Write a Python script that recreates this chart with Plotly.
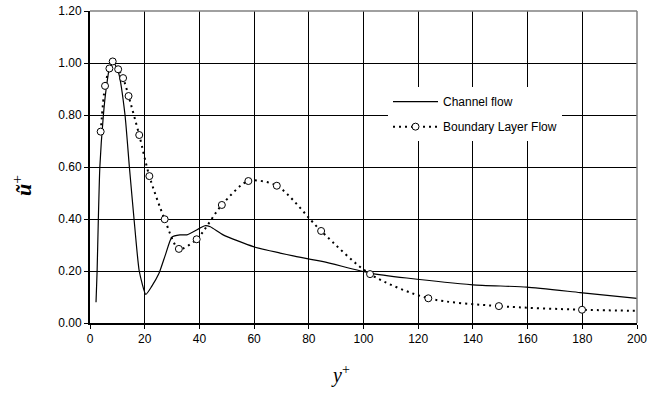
import plotly.graph_objects as go

# Channel flow (solid line)
channel_x = [2.2, 2.6, 3.05, 3.6, 4.9, 5.9, 7.1, 8.5, 10.5, 12.8, 14.4, 16.1, 18.0, 20.4,
             22.5, 25.2, 27.5, 29.9, 32.9, 35.4, 40.2, 42.0, 44.0, 48.7, 59.7, 69.5, 74.3,
             85.3, 102.4, 115.8, 140.0, 159.7, 179.2, 200.0]
channel_y = [0.08, 0.20, 0.40, 0.60, 0.80, 0.90, 0.98, 1.005, 0.96, 0.80, 0.60, 0.40, 0.20, 0.11,
             0.14, 0.19, 0.26, 0.33, 0.339, 0.339, 0.365, 0.374, 0.37, 0.339, 0.294, 0.269, 0.258,
             0.236, 0.192, 0.173, 0.147, 0.138, 0.117, 0.095]

# Boundary layer flow (dotted, markers)
bl_x = [3.9, 5.5, 7.1, 8.3, 10.3, 12.1, 14.1, 18.0, 21.7, 27.3, 32.5, 39.0, 48.2, 57.9,
        68.3, 84.5, 102.4, 123.7, 149.5, 179.9, 212.0]
bl_y = [0.736, 0.912, 0.979, 1.006, 0.976, 0.942, 0.873, 0.723, 0.565, 0.399, 0.285, 0.322,
        0.454, 0.546, 0.528, 0.354, 0.188, 0.095, 0.065, 0.051, 0.045]

x_ticks = [0, 20, 40, 60, 80, 100, 120, 140, 160, 180, 200]
y_ticks = [0.0, 0.2, 0.4, 0.6, 0.8, 1.0, 1.2]

fig = go.Figure()
fig.add_trace(go.Scatter(
    x=channel_x, y=channel_y, mode="lines", name="Channel flow", legendgroup="a",
    line=dict(color="black", width=1.2, shape="spline", smoothing=0.5),
))
fig.add_trace(go.Scatter(
    x=bl_x, y=bl_y, mode="lines+markers", name="Boundary Layer Flow", legendgroup="b",
    line=dict(color="black", width=2, dash="2px,4px", shape="spline", smoothing=0.8),
    marker=dict(symbol="circle", size=7, color="white", line=dict(color="black", width=1)),
    cliponaxis=True,
))

font = dict(family="Liberation Sans, Arial, sans-serif", size=12, color="black")

fig.update_layout(
    width=649, height=406,
    margin=dict(l=90, r=12, t=11, b=83, autoexpand=False),
    paper_bgcolor="white", plot_bgcolor="white",
    font=font,
    showlegend=True,
    legend=dict(
        x=(388 - 90) / 547, y=(323.3 - 87) / 312.6, xanchor="left", yanchor="top",
        bgcolor="white", borderwidth=0, font=font, tracegroupgap=6, itemwidth=45,
    ),
    xaxis=dict(
        range=[0, 200], tickvals=x_ticks, ticktext=[str(v) for v in x_ticks],
        showgrid=True, gridcolor="black", gridwidth=1,
        showline=True, linecolor="black", linewidth=2,
        ticks="outside", ticklen=4, tickcolor="black", tickwidth=1,
        zeroline=False, tickfont=font, automargin=False,
    ),
    yaxis=dict(
        range=[0, 1.2], tickvals=y_ticks, ticktext=[f"{v:.2f}" for v in y_ticks],
        showgrid=True, gridcolor="black", gridwidth=1,
        showline=True, linecolor="black", linewidth=2,
        ticks="outside", ticklen=4, tickcolor="black", tickwidth=1,
        zeroline=False, tickfont=font, automargin=False,
    ),
    shapes=[
        dict(type="line", xref="paper", yref="paper", x0=0, x1=1, y0=1, y1=1,
             line=dict(color="#808080", width=1.5)),
        dict(type="line", xref="paper", yref="paper", x0=1, x1=1, y0=0, y1=1,
             line=dict(color="#808080", width=1.5)),
    ],
    annotations=[
        dict(text="<i>y</i><sup>+</sup>", xref="paper", yref="paper",
             x=(340 - 90) / 547, y=(323.3 - 375) / 312.6, xanchor="center", yanchor="middle",
             showarrow=False, font=dict(family="Liberation Serif, Times New Roman, serif", size=20, color="black")),
        dict(text="<b><i>ũ</i></b><sup>+</sup>", xref="paper", yref="paper",
             x=(22 - 90) / 547, y=(323.3 - 186) / 312.6, xanchor="center", yanchor="middle",
             textangle=-90, showarrow=False,
             font=dict(family="Liberation Serif, Times New Roman, serif", size=22, color="black")),
    ],
)

fig.write_html("out.html", config={"displayModeBar": False},
               post_script="document.body.style.margin='0';document.body.style.overflow='hidden';")
